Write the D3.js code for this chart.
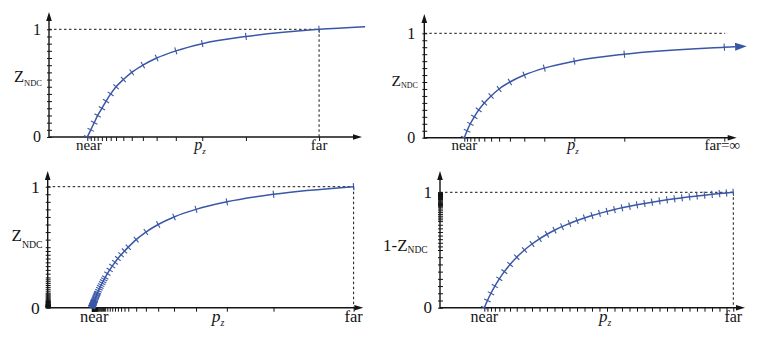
<!DOCTYPE html>
<html>
<head>
<meta charset="utf-8">
<script src="https://cdn.jsdelivr.net/npm/d3@7"></script>
<style>
  body { margin: 0; background: #fff; }
  svg { display: block; }
</style>
</head>
<body>
<svg id="chart" width="763" height="346" font-family="'Liberation Serif', 'Times New Roman', Times, serif"></svg>
<script>
// ---- Data -----------------------------------------------------------------
// Depth p_z is measured in units of the near-plane distance (near = 1).

// Fixed-point depth: Z_NDC quantised into 15 even steps.
const zSteps15 = [0, 0.0667, 0.1333, 0.2, 0.2667, 0.3333, 0.4, 0.4667, 0.5333,
                  0.6, 0.6667, 0.7333, 0.8, 0.8667, 0.9333, 1];

// Top-left: finite far plane.
const p1Depth = [1.00, 1.09, 1.18, 1.27, 1.38, 1.49, 1.61, 1.75, 1.94, 2.16,
                 2.45, 2.81, 3.31, 4.00, 5.14, 7.05];
const p1Z = zSteps15;
const p1TailDepth = [8.25];
const p1TailZ = [1.024];

// Top-right: far plane at infinity.
const p2Depth = [1.00, 1.07, 1.15, 1.25, 1.36, 1.50, 1.67, 1.87, 2.14, 2.50,
                 3.00, 3.75, 5.00, 7.50];
const p2Z = zSteps15.slice(0, 14);
const p2TailDepth = [7.77, 8.06];
const p2TailZ = [0.872, 0.875];

// Bottom-left: floating-point Z_NDC (dense near zero).
const p3Z = [0,
  0.0078125, 0.0087891, 0.0097656, 0.0107422, 0.0117188, 0.0126953, 0.0136719, 0.0146484,
  0.015625, 0.0175781, 0.0195313, 0.0214844, 0.0234375, 0.0253906, 0.0273438, 0.0292969,
  0.03125, 0.0351563, 0.0390625, 0.0429688, 0.046875, 0.0507813, 0.0546875, 0.0585938,
  0.0625, 0.0703125, 0.078125, 0.0859375, 0.09375, 0.1015625, 0.109375, 0.1171875,
  0.125, 0.140625, 0.15625, 0.171875, 0.1875, 0.203125, 0.21875, 0.234375,
  0.25, 0.28125, 0.3125, 0.34375, 0.375, 0.40625, 0.4375, 0.46875,
  0.5, 0.5625, 0.625, 0.6875, 0.75, 0.8125, 0.875, 0.9375, 1];
const p3Depth = [1.0,
  1.0076, 1.0086, 1.0095, 1.0105, 1.0114, 1.0124, 1.0134, 1.0143,
  1.0153, 1.0172, 1.0192, 1.0211, 1.0231, 1.0251, 1.0270, 1.0290,
  1.0310, 1.0350, 1.0390, 1.0431, 1.0471, 1.0512, 1.0554, 1.0595,
  1.0637, 1.0722, 1.0808, 1.0895, 1.0983, 1.1072, 1.1163, 1.1256,
  1.135, 1.154, 1.174, 1.194, 1.215, 1.237, 1.259, 1.282,
  1.306, 1.355, 1.409, 1.466, 1.528, 1.595, 1.667, 1.745,
  1.83, 2.01, 2.23, 2.51, 2.87, 3.37, 4.07, 5.13, 6.95];

// Bottom-right: reversed floating-point depth, plotted as 1 - Z_NDC.
const p4YTicks = [0, 0.0625, 0.125, 0.1875, 0.25, 0.3125, 0.375, 0.4375,
  0.5, 0.53125, 0.5625, 0.59375, 0.625, 0.65625, 0.6875, 0.71875,
  0.75, 0.765625, 0.78125, 0.796875, 0.8125, 0.828125, 0.84375, 0.859375,
  0.875, 0.8828125, 0.890625, 0.8984375, 0.90625, 0.9140625, 0.921875, 0.9296875,
  0.9375, 0.9414063, 0.9453125, 0.9492188, 0.953125, 0.9570313, 0.9609375, 0.9648438,
  0.96875, 0.9707031, 0.9726563, 0.9746094, 0.9765625, 0.9785156, 0.9804688, 0.9824219,
  0.984375, 0.9863281, 0.9882813, 0.9902344, 0.9921875, 0.9941406, 0.9960938, 0.9980469, 1];
const p4Depth = [1.000, 1.071, 1.150, 1.239, 1.339, 1.452, 1.581, 1.732, 1.907,
  2.077, 2.246, 2.415, 2.585, 2.754, 2.923, 3.093, 3.262, 3.431, 3.600,
  3.770, 3.939, 4.108, 4.278, 4.447, 4.616, 4.786, 4.955, 5.124, 5.293,
  5.463, 5.632, 5.801, 5.971, 6.140, 6.309, 6.467, 6.621];
const p4Z = [0, 0.0625, 0.125, 0.1875, 0.25, 0.3125, 0.375, 0.4375, 0.5,
  0.5519, 0.5969, 0.6363, 0.6711, 0.7022, 0.7300, 0.7551, 0.7778, 0.7985, 0.8173,
  0.8347, 0.8507, 0.8654, 0.8791, 0.8918, 0.9036, 0.9146, 0.9250, 0.9347, 0.9438,
  0.9524, 0.9605, 0.9681, 0.9754, 0.9822, 0.9887, 0.9945, 1.0];

// ---- Drawing ----------------------------------------------------------------
const BLUE = "#3a57a5";
const INK = "#141414";
const svg = d3.select("#chart");

function drawPanel(cfg) {
  const g = svg.append("g");
  const x = d3.scaleLinear().domain([0, cfg.xMax]).range([cfg.left, cfg.right]);
  const y = d3.scaleLinear().domain([0, 1]).range([cfg.bottom, cfg.top]);

  // dashed guides at Z = 1 and at the far plane
  g.append("line")
    .attr("x1", cfg.left).attr("x2", x(cfg.guideEnd))
    .attr("y1", y(1)).attr("y2", y(1))
    .attr("stroke", INK).attr("stroke-width", 1).attr("stroke-dasharray", "2.5,2.5");
  if (cfg.farGuide) {
    g.append("line")
      .attr("x1", x(cfg.farGuide)).attr("x2", x(cfg.farGuide))
      .attr("y1", y(1)).attr("y2", cfg.bottom)
      .attr("stroke", INK).attr("stroke-width", 1).attr("stroke-dasharray", "2.5,2.5");
  }

  // tick marks along both axes
  const xAxis = d3.axisBottom(x).tickValues(cfg.xTicks).tickSize(4).tickFormat("");
  const gx = g.append("g").attr("transform", `translate(0,${cfg.bottom})`).call(xAxis);
  gx.select(".domain").remove();
  gx.selectAll("line").attr("stroke", INK).attr("stroke-width", 1);

  const yAxis = d3.axisRight(y).tickValues(cfg.yTicks).tickSize(5).tickFormat("");
  const gy = g.append("g").attr("transform", `translate(${cfg.left - 2},0)`).call(yAxis);
  gy.select(".domain").remove();
  gy.selectAll("line").attr("stroke", INK).attr("stroke-width", 1);

  // axis lines with arrowheads
  g.append("line").attr("x1", cfg.left).attr("x2", cfg.xTip - 6)
    .attr("y1", cfg.bottom).attr("y2", cfg.bottom)
    .attr("stroke", INK).attr("stroke-width", 1.4);
  g.append("line").attr("x1", cfg.left).attr("x2", cfg.left)
    .attr("y1", cfg.bottom + 0.7).attr("y2", cfg.yTip + 6)
    .attr("stroke", INK).attr("stroke-width", 1.4);
  g.append("path")
    .attr("d", `M${cfg.xTip},${cfg.bottom} L${cfg.xTip - 9},${cfg.bottom - 2.8} L${cfg.xTip - 9},${cfg.bottom + 2.8} Z`)
    .attr("fill", INK);
  g.append("path")
    .attr("d", `M${cfg.left},${cfg.yTip} L${cfg.left - 2.8},${cfg.yTip + 9} L${cfg.left + 2.8},${cfg.yTip + 9} Z`)
    .attr("fill", INK);

  // curve through the quantised samples
  const marks = cfg.depth.map((p, i) => [x(p), y(cfg.z[i])]);
  const tail = cfg.tailDepth.map((p, i) => [x(p), y(cfg.tailZ[i])]);
  const curvePts = marks.concat(cfg.arrow ? tail.slice(0, -1) : tail);
  g.append("path")
    .attr("d", d3.line().curve(d3.curveMonotoneX)(curvePts))
    .attr("fill", "none").attr("stroke", BLUE).attr("stroke-width", 1.5);

  if (cfg.arrow) {
    const tip = tail[tail.length - 1];
    const base = tail[tail.length - 2];
    const dx = tip[0] - base[0], dy = tip[1] - base[1];
    const len = Math.hypot(dx, dy), ux = dx / len, uy = dy / len;
    const hw = 4;
    g.append("path")
      .attr("d", `M${tip[0]},${tip[1]} L${base[0] - uy * hw},${base[1] + ux * hw} L${base[0] + uy * hw},${base[1] - ux * hw} Z`)
      .attr("fill", BLUE);
  }

  // short cross-ticks perpendicular to the curve at each sample
  const all = marks.concat(tail);
  marks.forEach((pt, i) => {
    const a = all[Math.max(0, i - 1)], b = all[Math.min(all.length - 1, i + 1)];
    let tx = b[0] - a[0], ty = b[1] - a[1];
    const l = Math.hypot(tx, ty) || 1;
    tx /= l; ty /= l;
    const h = 3.6;
    g.append("line")
      .attr("x1", pt[0] - ty * h).attr("y1", pt[1] + tx * h)
      .attr("x2", pt[0] + ty * h).attr("y2", pt[1] - tx * h)
      .attr("stroke", BLUE).attr("stroke-width", 1.1);
  });

  // axis value labels
  const fs = cfg.fontSize;
  g.append("text").attr("x", cfg.left - cfg.numGap).attr("y", y(1)).attr("dy", "0.34em")
    .attr("text-anchor", "end").attr("font-size", fs + 1).attr("fill", INK).text("1");
  g.append("text").attr("x", cfg.left - cfg.numGap).attr("y", y(0)).attr("dy", "0.34em")
    .attr("text-anchor", "end").attr("font-size", fs + 1).attr("fill", INK).text("0");

  // depth axis labels
  g.append("text").attr("x", x(1) + cfg.nearShift).attr("y", cfg.labelBase)
    .attr("text-anchor", "middle").attr("font-size", fs).attr("fill", INK).text("near");
  g.append("text").attr("x", x(cfg.farLabelAt)).attr("y", cfg.labelBase)
    .attr("text-anchor", "middle").attr("font-size", fs).attr("fill", INK).text(cfg.farText);
  const pz = g.append("text").attr("x", cfg.pzX).attr("y", cfg.labelBase)
    .attr("text-anchor", "middle").attr("font-size", fs + 1).attr("fill", INK);
  pz.append("tspan").attr("font-style", "italic").text("p");
  pz.append("tspan").attr("font-style", "italic").attr("font-size", fs * 0.6)
    .attr("dy", 4).text("z");

  // vertical axis title
  const t = g.append("text").attr("x", cfg.zX).attr("y", cfg.zBase)
    .attr("font-size", cfg.zSize).attr("fill", INK);
  t.append("tspan").text(cfg.zPrefix + "Z");
  t.append("tspan").attr("font-size", cfg.subSize).attr("dy", cfg.subDy).text("NDC");
}

drawPanel({
  left: 49, right: 362, top: 29.3, bottom: 137, xMax: 8.17, xTip: 362, yTip: 12,
  depth: p1Depth, z: p1Z, tailDepth: p1TailDepth, tailZ: p1TailZ, arrow: false,
  xTicks: p1Depth, yTicks: zSteps15, guideEnd: 7.05, farGuide: 7.05,
  farLabelAt: 7.05, farText: "far", nearShift: 1.5, pzX: 200, labelBase: 150,
  fontSize: 15, numGap: 8, zX: 14, zBase: 82, zSize: 16.5, subSize: 8.5, subDy: 4, zPrefix: ""
});

drawPanel({
  left: 424.3, right: 736.7, top: 33.3, bottom: 137.7, xMax: 7.81, xTip: 736.7, yTip: 14,
  depth: p2Depth, z: p2Z, tailDepth: p2TailDepth, tailZ: p2TailZ, arrow: true,
  xTicks: p2Depth, yTicks: zSteps15, guideEnd: 7.52, farGuide: null,
  farLabelAt: 7.45, farText: "far=\u221E", nearShift: 0, pzX: 573, labelBase: 150,
  fontSize: 15, numGap: 9, zX: 391.5, zBase: 85.5, zSize: 15.5, subSize: 8, subDy: 2.5, zPrefix: ""
});

drawPanel({
  left: 47.7, right: 363.3, top: 186.7, bottom: 307.7, xMax: 7.17, xTip: 363.3, yTip: 171,
  depth: p3Depth, z: p3Z, tailDepth: [], tailZ: [], arrow: false,
  xTicks: p3Depth, yTicks: p3Z, guideEnd: 6.95, farGuide: 6.95,
  farLabelAt: 6.95, farText: "far", nearShift: 2.5, pzX: 218, labelBase: 321.5,
  fontSize: 16.5, numGap: 8, zX: 11.5, zBase: 241, zSize: 17, subSize: 9.8, subDy: 7, zPrefix: ""
});

drawPanel({
  left: 440, right: 745, top: 192.3, bottom: 307.7, xMax: 6.885, xTip: 745, yTip: 171,
  depth: p4Depth, z: p4Z, tailDepth: [], tailZ: [], arrow: false,
  xTicks: p4Depth, yTicks: p4YTicks, guideEnd: 6.621, farGuide: 6.621,
  farLabelAt: 6.621, farText: "far", nearShift: 0, pzX: 605, labelBase: 321.5,
  fontSize: 16, numGap: 8, zX: 383, zBase: 250.5, zSize: 17, subSize: 9.5, subDy: 2.5, zPrefix: "1-"
});
</script>
</body>
</html>
